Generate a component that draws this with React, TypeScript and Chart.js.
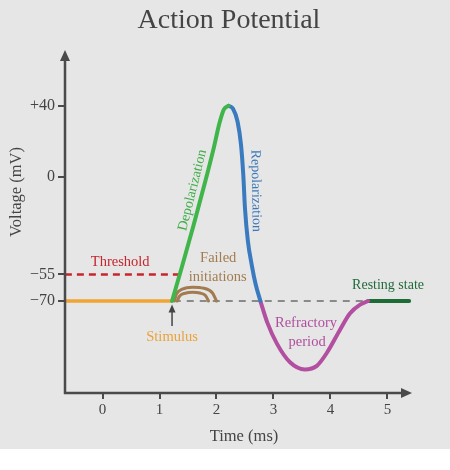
import React, { useEffect, useRef } from "react";
import { Chart, registerables } from "chart.js";

Chart.register(...registerables);

// ---- data (time in ms, voltage in mV) ----
const TIME_TICKS = [0, 1, 2, 3, 4, 5];
const VOLT_TICKS = [40, 0, -55, -70];
const TIME_MIN = -0.658;
const TIME_MAX = 5.43;
const VOLT_MIN = -121.8;
const VOLT_MAX = 71.4;

const RESTING_BEFORE = [[-0.66, -70], [1.22, -70]];
const DEPOLARIZATION = [
  [1.22, -70], [1.4, -50], [1.6, -27], [1.8, -3], [1.95, 16],
  [2.05, 30], [2.13, 38], [2.21, 40],
];
const REPOLARIZATION = [
  [2.21, 40], [2.29, 38.3], [2.37, 31], [2.43, 18], [2.47, 1],
  [2.5, -18], [2.55, -36], [2.62, -50], [2.69, -61], [2.77, -70],
];
const REFRACTORY = [
  [2.77, -70], [2.89, -82], [3.06, -94], [3.29, -104.5], [3.55, -108.5],
  [3.76, -106.5], [3.94, -99], [4.17, -86], [4.34, -77], [4.52, -72], [4.66, -70],
];
const RESTING_AFTER = [[4.66, -70], [5.38, -70]];
const FAILED_OUTER = [
  [1.26, -70], [1.3, -66], [1.4, -63.3], [1.58, -62.2], [1.78, -62.8], [1.93, -65.5], [2.0, -70],
];
const FAILED_INNER = [
  [1.31, -70], [1.35, -67.3], [1.45, -65.6], [1.58, -65], [1.71, -65.5], [1.81, -67], [1.86, -70],
];
const THRESHOLD_LINE = [[-0.66, -55], [1.33, -55]];
const BASELINE = [[1.25, -70], [4.66, -70]];
const STIMULUS_ARROW = [[1.22, -84], [1.22, -72]];

const LABELS = [
  { text: "Threshold", x: 0.31, y: -48, color: "#c4262e", rot: 0, size: 14.5 },
  { text: "Stimulus", x: 1.22, y: -90.3, color: "#e9a33a", rot: 0, size: 14.5 },
  { text: "Failed", x: 2.03, y: -45.8, color: "#a27c50", rot: 0, size: 14.5 },
  { text: "initiations", x: 2.02, y: -56.5, color: "#a27c50", rot: 0, size: 14.5 },
  { text: "Depolarization", x: 1.58, y: -7.6, color: "#3fae49", rot: -76, size: 14 },
  { text: "Repolarization", x: 2.69, y: -7.9, color: "#3b78b8", rot: 89, size: 14 },
  { text: "Refractory", x: 3.57, y: -82.4, color: "#b04f9f", rot: 0, size: 14.5 },
  { text: "period", x: 3.59, y: -93.1, color: "#b04f9f", rot: 0, size: 14.5 },
  { text: "Resting state", x: 5.01, y: -61, color: "#1f6b3a", rot: 0, size: 14 },
];

const TITLE = "Action Potential";
const X_TITLE = "Time (ms)";
const Y_TITLE = "Voltage (mV)";

const SERIF = "'Liberation Serif', 'Times New Roman', serif";
const AXIS_COLOR = "#4a4a4a";
const TEXT_COLOR = "#444444";

const toXY = (arr: number[][]) => arr.map(([x, y]) => ({ x, y }));

export default function App() {
  const ref = useRef<HTMLCanvasElement | null>(null);

  useEffect(() => {
    if (!ref.current) return;

    const decor = {
      id: "decor",
      beforeDraw(chart: any) {
        const { ctx, width, height } = chart;
        ctx.save();
        ctx.fillStyle = "#ffffff";
        ctx.fillRect(0, 0, width, height);
        ctx.fillStyle = "#e6e6e6";
        ctx.fillRect(0, 0, width, 449);
        ctx.restore();
      },
      afterDraw(chart: any) {
        const { ctx, chartArea: ca, scales } = chart;
        ctx.save();
        // axes with arrows
        ctx.strokeStyle = AXIS_COLOR;
        ctx.fillStyle = AXIS_COLOR;
        ctx.lineWidth = 2.5;
        ctx.beginPath();
        ctx.moveTo(ca.left, ca.bottom + 1);
        ctx.lineTo(ca.left, ca.top + 8);
        ctx.moveTo(ca.left - 1, ca.bottom);
        ctx.lineTo(ca.right - 8, ca.bottom);
        ctx.stroke();
        ctx.beginPath();
        ctx.moveTo(ca.left, ca.top);
        ctx.lineTo(ca.left - 5, ca.top + 11);
        ctx.lineTo(ca.left + 5, ca.top + 11);
        ctx.closePath();
        ctx.fill();
        ctx.beginPath();
        ctx.moveTo(ca.right, ca.bottom);
        ctx.lineTo(ca.right - 11, ca.bottom - 5);
        ctx.lineTo(ca.right - 11, ca.bottom + 5);
        ctx.closePath();
        ctx.fill();

        // title and axis titles
        ctx.fillStyle = TEXT_COLOR;
        ctx.textAlign = "center";
        ctx.textBaseline = "middle";
        ctx.font = `28px ${SERIF}`;
        ctx.fillText(TITLE, 229, 21);
        ctx.font = `16.5px ${SERIF}`;
        ctx.fillText(X_TITLE, 244, 437);
        ctx.save();
        ctx.translate(17, 192);
        ctx.rotate(-Math.PI / 2);
        ctx.fillText(Y_TITLE, 0, 0);
        ctx.restore();

        // stimulus arrow
        const sx = scales.x.getPixelForValue(STIMULUS_ARROW[0][0]);
        const sy0 = scales.y.getPixelForValue(STIMULUS_ARROW[0][1]);
        const sy1 = scales.y.getPixelForValue(STIMULUS_ARROW[1][1]);
        ctx.strokeStyle = "#444";
        ctx.fillStyle = "#444";
        ctx.lineWidth = 1.5;
        ctx.beginPath();
        ctx.moveTo(sx, sy0);
        ctx.lineTo(sx, sy1 + 5);
        ctx.stroke();
        ctx.beginPath();
        ctx.moveTo(sx, sy1);
        ctx.lineTo(sx - 3.5, sy1 + 8);
        ctx.lineTo(sx + 3.5, sy1 + 8);
        ctx.closePath();
        ctx.fill();

        // labels
        for (const l of LABELS) {
          const px = scales.x.getPixelForValue(l.x);
          const py = scales.y.getPixelForValue(l.y);
          ctx.save();
          ctx.font = `${l.size}px ${SERIF}`;
          ctx.translate(px, py);
          ctx.rotate((l.rot * Math.PI) / 180);
          ctx.fillStyle = l.color;
          ctx.fillText(l.text, 0, 0);
          ctx.restore();
        }
        ctx.restore();
      },
    };

    const line = (data: number[][], color: string, width: number, extra: any = {}) => ({
      data: toXY(data),
      borderColor: color,
      borderWidth: width,
      pointRadius: 0,
      fill: false,
      cubicInterpolationMode: "monotone",
      borderCapStyle: "round",
      borderJoinStyle: "round",
      ...extra,
    });

    const chart = new Chart(ref.current, {
      type: "line",
      data: {
        datasets: [
          line(DEPOLARIZATION, "#3fb54a", 4),
          line(REPOLARIZATION, "#3a7bc0", 4),
          line(REFRACTORY, "#b24fa0", 4),
          line(RESTING_AFTER, "#1d6b35", 4),
          line(RESTING_BEFORE, "#f0a431", 3.5, { borderCapStyle: "butt" }),
          line(FAILED_OUTER, "#a27c50", 3),
          line(FAILED_INNER, "#a27c50", 3),
          line(THRESHOLD_LINE, "#c8262e", 2.5, { borderDash: [7, 5], borderCapStyle: "butt" }),
          line(BASELINE, "#8a8a8a", 2, { borderDash: [7, 6], borderCapStyle: "butt" }),
        ] as any,
      },
      options: {
        animation: false,
        responsive: false,
        events: [],
        layout: { padding: { top: 50, right: 38, left: 0, bottom: 0 } },
        plugins: { legend: { display: false }, tooltip: { enabled: false }, title: { display: false } },
        scales: {
          x: {
            type: "linear",
            min: TIME_MIN,
            max: TIME_MAX,
            afterBuildTicks: (s: any) => {
              s.ticks = TIME_TICKS.map((v) => ({ value: v }));
            },
            afterFit: (s: any) => {
              s.height = 77;
            },
            border: { display: false },
            grid: { drawOnChartArea: false, drawTicks: true, tickLength: 6, color: AXIS_COLOR, lineWidth: 2 },
            ticks: { color: TEXT_COLOR, font: { family: SERIF, size: 15 }, padding: 2, maxRotation: 0 },
          },
          y: {
            type: "linear",
            min: VOLT_MIN,
            max: VOLT_MAX,
            afterBuildTicks: (s: any) => {
              s.ticks = VOLT_TICKS.map((v) => ({ value: v }));
            },
            afterFit: (s: any) => {
              s.width = 65;
            },
            border: { display: false },
            grid: { drawOnChartArea: false, drawTicks: true, tickLength: 7, color: AXIS_COLOR, lineWidth: 2 },
            ticks: {
              color: TEXT_COLOR,
              font: { family: SERIF, size: 16 },
              padding: 3,
              callback: (v: any) => (v > 0 ? `+${v}` : v < 0 ? `\u2212${Math.abs(v)}` : "0"),
            },
          },
        },
      } as any,
      plugins: [decor],
    });

    return () => chart.destroy();
  }, []);

  return (
    <div style={{ position: "absolute", left: 0, top: 0, width: 450, height: 470 }}>
      <canvas ref={ref} width={450} height={470} style={{ display: "block" }} />
    </div>
  );
}
